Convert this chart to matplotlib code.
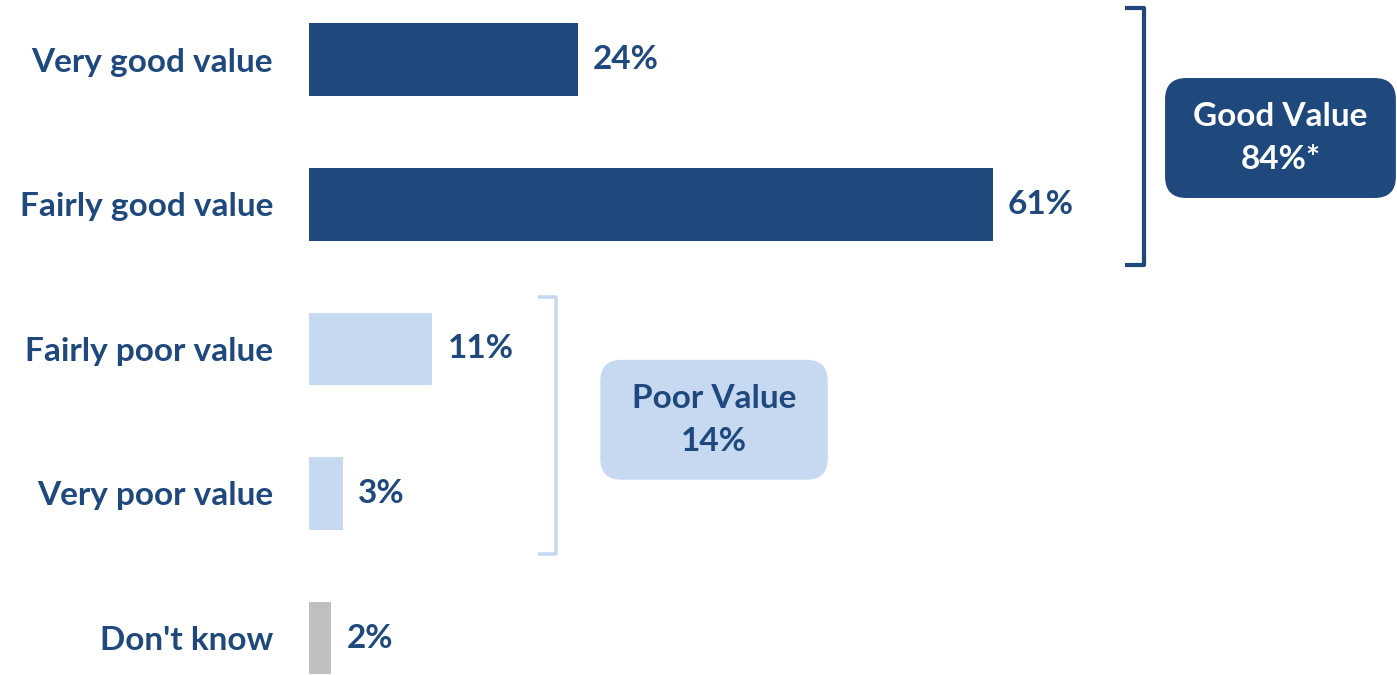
#!/usr/bin/env python3
"""Perceived value for money: horizontal bars with grouped net boxes."""

import matplotlib
matplotlib.use("Agg")
import matplotlib.pyplot as plt
from matplotlib.patches import FancyBboxPatch

categories = ["Very good value", "Fairly good value", "Fairly poor value", "Very poor value", "Don't know"]
values = [24, 61, 11, 3, 2]
value_labels = ["24%", "61%", "11%", "3%", "2%"]
net_names = ["Good Value", "Poor Value"]
net_labels = ["84%*", "14%"]

DARK = "#1F497D"
LIGHT = "#C6D9F1"
GREY = "#BFBFBF"
bar_colors = [DARK, DARK, LIGHT, LIGHT, GREY]
FS = 24

plt.rcParams["font.family"] = ["Lato", "DejaVu Sans"]
plt.rcParams["font.weight"] = "bold"

fig = plt.figure(figsize=(13.97, 6.75), dpi=100)
ax = fig.add_axes([309 / 1397, 0, 1 - 309 / 1397, 1])

ypos = list(range(len(categories)))
bars = ax.barh(ypos, values, height=0.505, color=bar_colors)
ax.bar_label(bars, labels=value_labels, padding=11, color=DARK, fontsize=FS, fontweight="bold")

ax.set_xlim(0, 97.1)
ax.set_ylim(4.256, -0.415)
ax.set_yticks(ypos, categories)
ax.tick_params(axis="y", length=0, pad=26, labelsize=FS, labelcolor=DARK)
ax.set_xticks([])
for s in ax.spines.values():
    s.set_visible(False)

# brackets and net boxes (x in % units, y in bar-row units)
aspect = (1397 - 309) / 97.1 / (675 / 4.671)
groups = [
    # first row, last row, bracket x, tick x, lw, colour, box x0, box x1, box centre, face, text colour
    (0, 1, 74.5, 72.8, 3.0, DARK, 76.4, 97.0, 0.54, DARK, "white"),
    (2, 3, 22.0, 20.4, 2.6, LIGHT, 26.0, 46.3, 2.49, LIGHT, DARK),
]
for (r0, r1, bx, tx, lw, col, x0, x1, cy, face, tcol), name, lab in zip(groups, net_names, net_labels):
    top, bot = r0 - 0.36, r1 + 0.42
    ax.plot([tx, bx, bx, tx], [top, top, bot, bot], color=col, lw=lw,
            solid_joinstyle="round", solid_capstyle="butt", clip_on=False)
    h = 0.83
    box = FancyBboxPatch((x0, cy - h / 2), x1 - x0, h,
                         boxstyle="round,pad=0,rounding_size=1.9",
                         mutation_aspect=aspect, facecolor=face, edgecolor="none", clip_on=False)
    ax.add_patch(box)
    ax.text((x0 + x1) / 2, cy - 0.15, name, ha="center", va="center",
            color=tcol, fontsize=FS, fontweight="bold")
    ax.text((x0 + x1) / 2, cy + 0.15, lab, ha="center", va="center",
            color=tcol, fontsize=FS, fontweight="bold")

fig.savefig("out.png", dpi=100)
